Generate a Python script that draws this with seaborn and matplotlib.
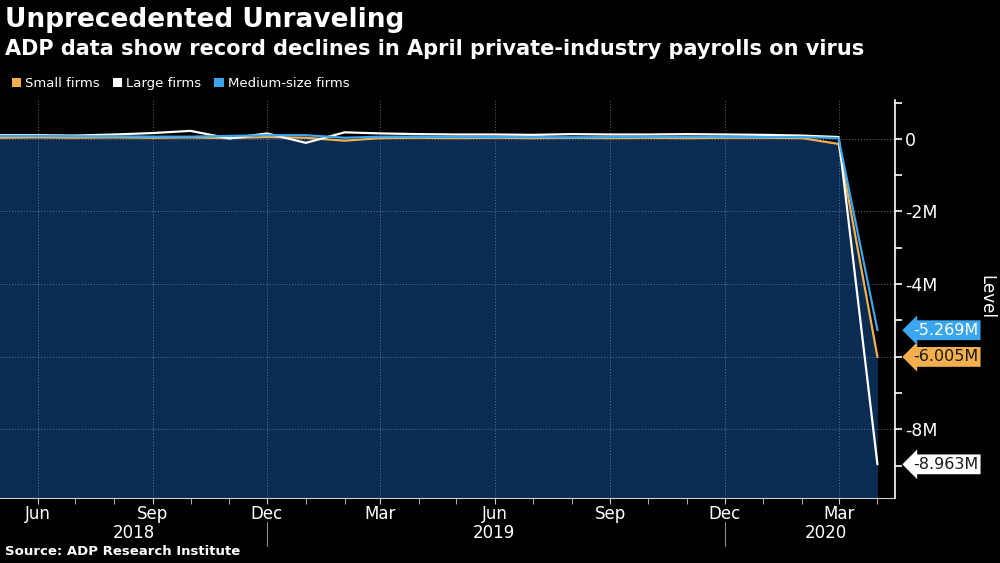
import numpy as np
import pandas as pd
import matplotlib.pyplot as plt
import matplotlib.dates as mdates
import matplotlib.transforms as mtransforms
from matplotlib.patches import Patch
import seaborn as sns

# ==========================================
# DATA (monthly change in private payrolls, millions)
# ==========================================
months = pd.date_range("2018-05-01", "2020-04-01", freq="MS")
small_firms = [0.03, 0.04, 0.03, 0.04, 0.03, 0.04, 0.02, 0.05, 0.03, -0.05, 0.02, 0.03,
               0.02, 0.03, 0.02, 0.03, 0.02, 0.03, 0.02, 0.03, 0.03, 0.02, -0.14, -6.005]
large_firms = [0.10, 0.10, 0.09, 0.12, 0.16, 0.22, 0.01, 0.15, -0.11, 0.18, 0.15, 0.13,
               0.12, 0.12, 0.11, 0.13, 0.12, 0.12, 0.13, 0.12, 0.11, 0.09, 0.05, -8.963]
medium_firms = [0.08, 0.08, 0.07, 0.07, 0.06, 0.06, 0.08, 0.10, 0.10, 0.03, 0.06, 0.06,
                0.05, 0.05, 0.05, 0.04, 0.05, 0.06, 0.06, 0.06, 0.05, 0.05, 0.02, -5.269]
series_names = ["Small firms", "Large firms", "Medium-size firms"]
series_colors = ["#f4b04f", "#ffffff", "#3aa6ef"]
last_labels = ["-6.005M", "-8.963M", "-5.269M"]
label_text_colors = ["#1a1a1a", "#1a1a1a", "#ffffff"]
year_labels = ["2018", "2019", "2020"]
year_label_dates = ["2018-08-17", "2019-05-31", "2020-02-20"]

df = pd.DataFrame({"date": months, "Small firms": small_firms,
                   "Large firms": large_firms, "Medium-size firms": medium_firms})

# ==========================================
# STYLE
# ==========================================
sns.set_style("dark", {"axes.facecolor": "black", "figure.facecolor": "black"})
plt.rcParams["font.family"] = ["DejaVu Sans"]

fig = plt.figure(figsize=(10, 5.63), dpi=100)
ax = fig.add_axes([0.0, 1 - 498 / 563, 0.895, (498 - 100) / 563])
ax.set_facecolor("black")

ymin, ymax = -9.89, 1.07
ax.set_ylim(ymin, ymax)
ax.set_xlim(pd.Timestamp("2018-05-02"), pd.Timestamp("2020-04-15"))

# navy area under small firms line
ax.fill_between(df["date"], df["Small firms"], ymin, color="#0a2b52", zorder=1, lw=0)

# grid
for d in pd.date_range("2018-06-01", "2020-03-01", freq="3MS"):
    ax.axvline(d, color="#8a9bb0", lw=0.7, ls=(0, (1, 2)), zorder=2, alpha=0.7)
for yv in [0, -2, -4, -6, -8]:
    ax.axhline(yv, color="#8a9bb0", lw=0.7, ls=(0, (1, 2)), zorder=2, alpha=0.7)

# lines
for name, col in zip(series_names, series_colors):
    sns.lineplot(data=df, x="date", y=name, color=col, lw=1.6, ax=ax, zorder=4,
                 legend=False)

# axes cosmetics
for s in ["top", "left"]:
    ax.spines[s].set_visible(False)
ax.spines["right"].set_color("white")
ax.spines["bottom"].set_color("#cccccc")
ax.spines["right"].set_linewidth(1.2)
ax.yaxis.tick_right()
ax.yaxis.set_label_position("right")
ax.set_yticks([0, -2, -4, -6, -8])
ax.set_yticklabels(["0", "-2M", "-4M", "", "-8M"])
ax.set_yticks([1, -1, -3, -5, -7, -9], minor=True)
ax.tick_params(axis="y", which="both", colors="white", labelsize=12.5, length=5, width=1.2,
               direction="out", pad=2, right=True)
ax.set_ylabel("")
fig.text(0.986, 1 - 297 / 563, "Level", color="white", fontsize=12, rotation=270,
         ha="center", va="center")

ax.xaxis.set_major_locator(mdates.MonthLocator(bymonth=[3, 6, 9, 12]))
ax.xaxis.set_major_formatter(mdates.DateFormatter("%b"))
ax.xaxis.set_minor_locator(mdates.MonthLocator())
ax.tick_params(axis="x", which="both", colors="#cccccc", labelsize=12, length=4,
               direction="out", pad=1, bottom=True)
ax.tick_params(axis="x", which="major", labelcolor="white")
ax.set_xlabel("")

# year labels and separators
trans = mtransforms.blended_transform_factory(ax.transData, ax.transAxes)
for lab, d in zip(year_labels, year_label_dates):
    ax.text(pd.Timestamp(d), -(533 - 498) / 398, lab, transform=trans, color="white",
            fontsize=12, ha="center", va="center")
for d in ["2018-12-01", "2019-12-01"]:
    ax.plot([pd.Timestamp(d)] * 2, [-0.06, -0.12], transform=trans, color="#888888",
            lw=0.8, clip_on=False)

# last value tags
ytrans = mtransforms.blended_transform_factory(ax.transAxes, ax.transData)
for val, lab, col, tcol in zip([small_firms[-1], large_firms[-1], medium_firms[-1]],
                               last_labels, series_colors, label_text_colors):
    ax.text(1.02, val, lab, transform=ytrans, color=tcol, fontsize=11.5, ha="left",
            va="center", clip_on=False, zorder=6,
            bbox=dict(boxstyle="larrow,pad=0.15", fc=col, ec="none"))

# titles
fig.text(0.005, 0.965, "Unprecedented Unraveling", color="white", fontsize=19,
         fontweight="bold", va="center")
fig.text(0.005, 0.913, "ADP data show record declines in April private-industry payrolls on virus",
         color="white", fontsize=15, fontweight="bold", va="center")
handles = [Patch(facecolor=c, edgecolor="none") for c in series_colors]
leg = fig.legend(handles, series_names, loc="center left", bbox_to_anchor=(0.0, 0.852),
                 ncol=3, frameon=False, fontsize=9.5, handlelength=0.7, handleheight=0.7,
                 handletextpad=0.3, columnspacing=1.0, labelcolor="white")
fig.text(0.005, 0.02, "Source: ADP Research Institute", color="white", fontsize=9.5,
         fontweight="bold", va="center")

fig.savefig("out.png", dpi=100, facecolor="black")
